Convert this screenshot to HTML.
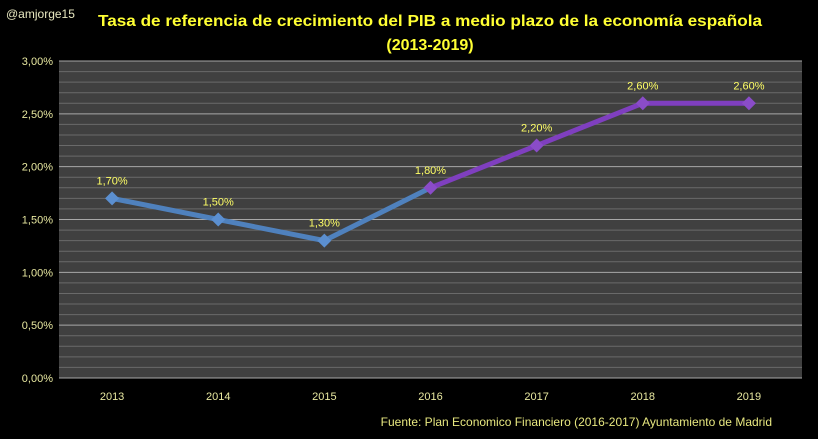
<!DOCTYPE html>
<html><head><meta charset="utf-8"><style>
body{margin:0;background:#000;width:818px;height:439px;overflow:hidden;font-family:"Liberation Sans",sans-serif}
</style></head><body>
<svg width="818" height="439" style="position:absolute;left:0;top:0">
<text x="6" y="18" fill="#e8e8c0" font-size="12">@amjorge15</text>
<text x="98" y="26" fill="#ffff33" font-size="16" font-weight="bold" textLength="664" lengthAdjust="spacingAndGlyphs">Tasa de referencia de crecimiento del PIB a medio plazo de la economía española</text>
<text x="430" y="50" fill="#ffff33" font-size="16" font-weight="bold" text-anchor="middle">(2013-2019)</text>
<rect x="59" y="61" width="743" height="317" fill="#404040"/>
<g id="grid"></g><g id="yax"></g><g id="xax"></g><g id="series"></g><g id="labels"></g>
<text x="772" y="426" fill="#e8e880" font-size="12" text-anchor="end">Fuente: Plan Economico Financiero (2016-2017) Ayuntamiento de Madrid</text>
</svg>
<script>
const years=["2013","2014","2015","2016","2017","2018","2019"];
const values=[1.7,1.5,1.3,1.8,2.2,2.6,2.6];
const valueLabels=["1,70%","1,50%","1,30%","1,80%","2,20%","2,60%","2,60%"];
const yTicks=[0,0.5,1,1.5,2,2.5,3];
const yTickLabels=["0,00%","0,50%","1,00%","1,50%","2,00%","2,50%","3,00%"];
const L=59,R=802,T=61,B=378,NS="http://www.w3.org/2000/svg";
const xs=i=>L+(R-L)/years.length*(i+0.5);
const ys=v=>B-(v/3)*(B-T);
function mk(tag,a,parent){const e=document.createElementNS(NS,tag);for(const k in a)e.setAttribute(k,a[k]);document.getElementById(parent).appendChild(e);return e;}
for(let k=0;k<=30;k++){const v=k/10;const major=k%5===0;
 const l=mk('line',{x1:L,x2:R,y1:ys(v),y2:ys(v),stroke:major?'#a8a8a8':'#6a6a6a','stroke-width':1},'grid');
 
 }
yTicks.forEach((v,i)=>{const t=mk('text',{x:53,y:ys(v)+4,fill:'#e8e8a0','font-size':11,'text-anchor':'end'},'yax');t.textContent=yTickLabels[i];
 
 });
years.forEach((y,i)=>{const t=mk('text',{x:xs(i),y:400,fill:'#e8e8a0','font-size':11,'text-anchor':'middle'},'xax');t.textContent=y;
 
 });
for(let i=0;i<values.length-1;i++){const c=i<3?'#4f81bd':'#7f3fbf';
 const l=mk('line',{x1:xs(i),y1:ys(values[i]),x2:xs(i+1),y2:ys(values[i+1]),stroke:c,'stroke-width':5,'stroke-linecap':'round'},'series');
 
 }
values.forEach((v,i)=>{const x=xs(i),y=ys(v),c=i<3?'#5b8fd0':'#8a4cc8';
 const p=mk('polygon',{points:`${x},${y-7} ${x+7},${y} ${x},${y+7} ${x-7},${y}`,fill:c},'series');
 
 
 const t=mk('text',{x:x,y:y-14,fill:'#ffff66','font-size':11,'text-anchor':'middle'},'labels');t.textContent=valueLabels[i];
 
 });
</script>
</body></html>
